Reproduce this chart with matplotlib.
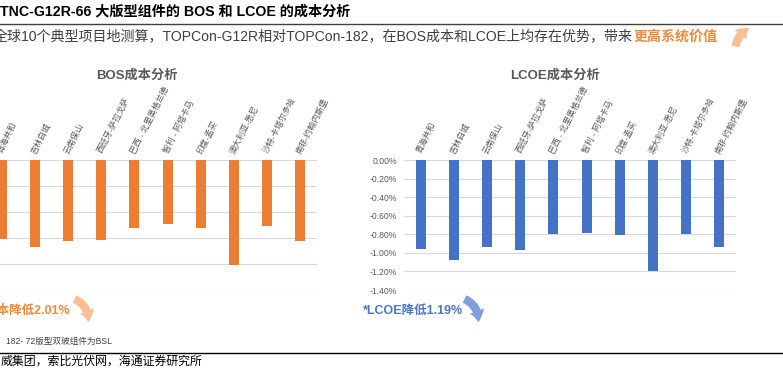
import matplotlib
matplotlib.use('Agg')
import matplotlib.pyplot as plt
import numpy as np

plt.rcParams['font.family'] = ['Liberation Sans', 'Noto Sans CJK SC', 'DejaVu Sans']
plt.rcParams['axes.unicode_minus'] = False

sites = ['青海共和', '吉林白城', '云南保山', '西班牙-萨拉戈萨', '巴西 - 北里奥格兰德',
         '智利 - 阿塔卡马', '印度-孟买', '澳大利亚-悉尼', '沙特-卡塔尔多哈', '南非-约翰内斯堡']
bos_change = [-1.52, -1.68, -1.55, -1.53, -1.31, -1.23, -1.31, -2.01, -1.27, -1.56]
lcoe_change = [-0.96, -1.08, -0.94, -0.97, -0.80, -0.79, -0.81, -1.19, -0.80, -0.94]
lcoe_ticks = [0.0, -0.2, -0.4, -0.6, -0.8, -1.0, -1.2, -1.4]
bos_ticks = [0.0, -0.5, -1.0, -1.5, -2.0, -2.5]

ORANGE = '#ED7D31'
BLUE = '#4472C4'
GRID = '#D9D9D9'
GRAY = '#595959'

W, H = 783, 369
fig = plt.figure(figsize=(7.83, 3.69), dpi=100)
fig.patch.set_facecolor('white')


def fx(px):
    return px / W


def fy(py):
    return 1 - py / H


def draw_panel(ax, values, ticks, color, show_labels):
    x = np.arange(len(values))
    ax.bar(x, values, width=0.3, color=color, zorder=3)
    ax.set_xlim(-0.5, len(values) - 0.5)
    ax.set_ylim(min(ticks), 0)
    ax.set_yticks(ticks)
    ax.yaxis.grid(True, color=GRID, linewidth=0.8, zorder=0)
    ax.set_xticks([])
    for s in ax.spines.values():
        s.set_visible(False)
    ax.tick_params(axis='y', length=0, pad=5, labelsize=6.2, labelcolor=GRAY)
    if show_labels:
        ax.set_yticklabels(['%.2f%%' % t if t != 0 else '0.00%' for t in ticks])
    else:
        ax.set_yticklabels([])
    for i, lbl in enumerate(sites):
        ax.annotate(lbl, (i, 0), xytext=(-1, 5), textcoords='offset points',
                    rotation=63, rotation_mode='anchor', ha='left', va='center',
                    fontsize=6, color=GRAY, annotation_clip=False)


ax1 = fig.add_axes([fx(-15), fy(290), fx(332), fy(160) - fy(290)])
draw_panel(ax1, bos_change, bos_ticks, ORANGE, False)
ax2 = fig.add_axes([fx(404), fy(290), fx(332), fy(160) - fy(290)])
draw_panel(ax2, lcoe_change, lcoe_ticks, BLUE, True)

fig.text(fx(137), fy(75), 'BOS成本分析', ha='center', va='center',
         fontsize=9.5, fontweight='bold', color=GRAY)
fig.text(fx(555), fy(75), 'LCOE成本分析', ha='center', va='center',
         fontsize=9.5, fontweight='bold', color=GRAY)

# header
fig.text(fx(0), fy(11), 'TNC-G12R-66 大版型组件的 BOS 和 LCOE 的成本分析',
         ha='left', va='center', fontsize=10.2, fontweight='bold', color='black')
fig.add_artist(plt.Line2D([0, 1], [fy(24), fy(24)], color='#404040', linewidth=1))
sub = fig.text(fx(-6), fy(37), '全球10个典型项目地测算，TOPCon-G12R相对TOPCon-182，在BOS成本和LCOE上均存在优势，带来',
               ha='left', va='center', fontsize=10.1, color='#404040')
fig.canvas.draw()
bb = sub.get_window_extent()
fig.text(bb.x1 / W, fy(37), '更高系统价值', ha='left', va='center',
         fontsize=10.1, fontweight='bold', color='#F08A3C')

# arrows
arrow_style = 'simple,head_width=11,head_length=8,tail_width=6'
fig.add_artist(matplotlib.patches.FancyArrowPatch(
    (fx(735), fy(49)), (fx(752), fy(27)), transform=fig.transFigure,
    arrowstyle=arrow_style, connectionstyle='arc3,rad=-0.3',
    color='#F8B07A', alpha=0.8, linewidth=0))
fig.add_artist(matplotlib.patches.FancyArrowPatch(
    (fx(72), fy(298)), (fx(88), fy(325)), transform=fig.transFigure,
    arrowstyle=arrow_style, connectionstyle='arc3,rad=-0.4',
    color='#F8B07A', alpha=0.8, linewidth=0))
fig.add_artist(matplotlib.patches.FancyArrowPatch(
    (fx(462), fy(298)), (fx(478), fy(325)), transform=fig.transFigure,
    arrowstyle=arrow_style, connectionstyle='arc3,rad=-0.4',
    color='#6F94D6', alpha=0.9, linewidth=0))

fig.text(fx(71), fy(311), '*BOS成本降低2.01%', ha='right', va='center',
         fontsize=9, fontweight='bold', color='#F08A3C')
fig.text(fx(363), fy(311), '*LCOE降低1.19%', ha='left', va='center',
         fontsize=9, fontweight='bold', color='#4A76C6')

fig.text(fx(6), fy(341), '182- 72版型双玻组件为BSL', ha='left', va='center',
         fontsize=6.2, color='#404040')
fig.add_artist(plt.Line2D([0, 1], [fy(353), fy(353)], color='black', linewidth=1))
fig.text(fx(1), fy(362), '威集团，索比光伏网，海通证券研究所', ha='left', va='center',
         fontsize=8.6, color='black')

fig.savefig('out.png', dpi=100)
